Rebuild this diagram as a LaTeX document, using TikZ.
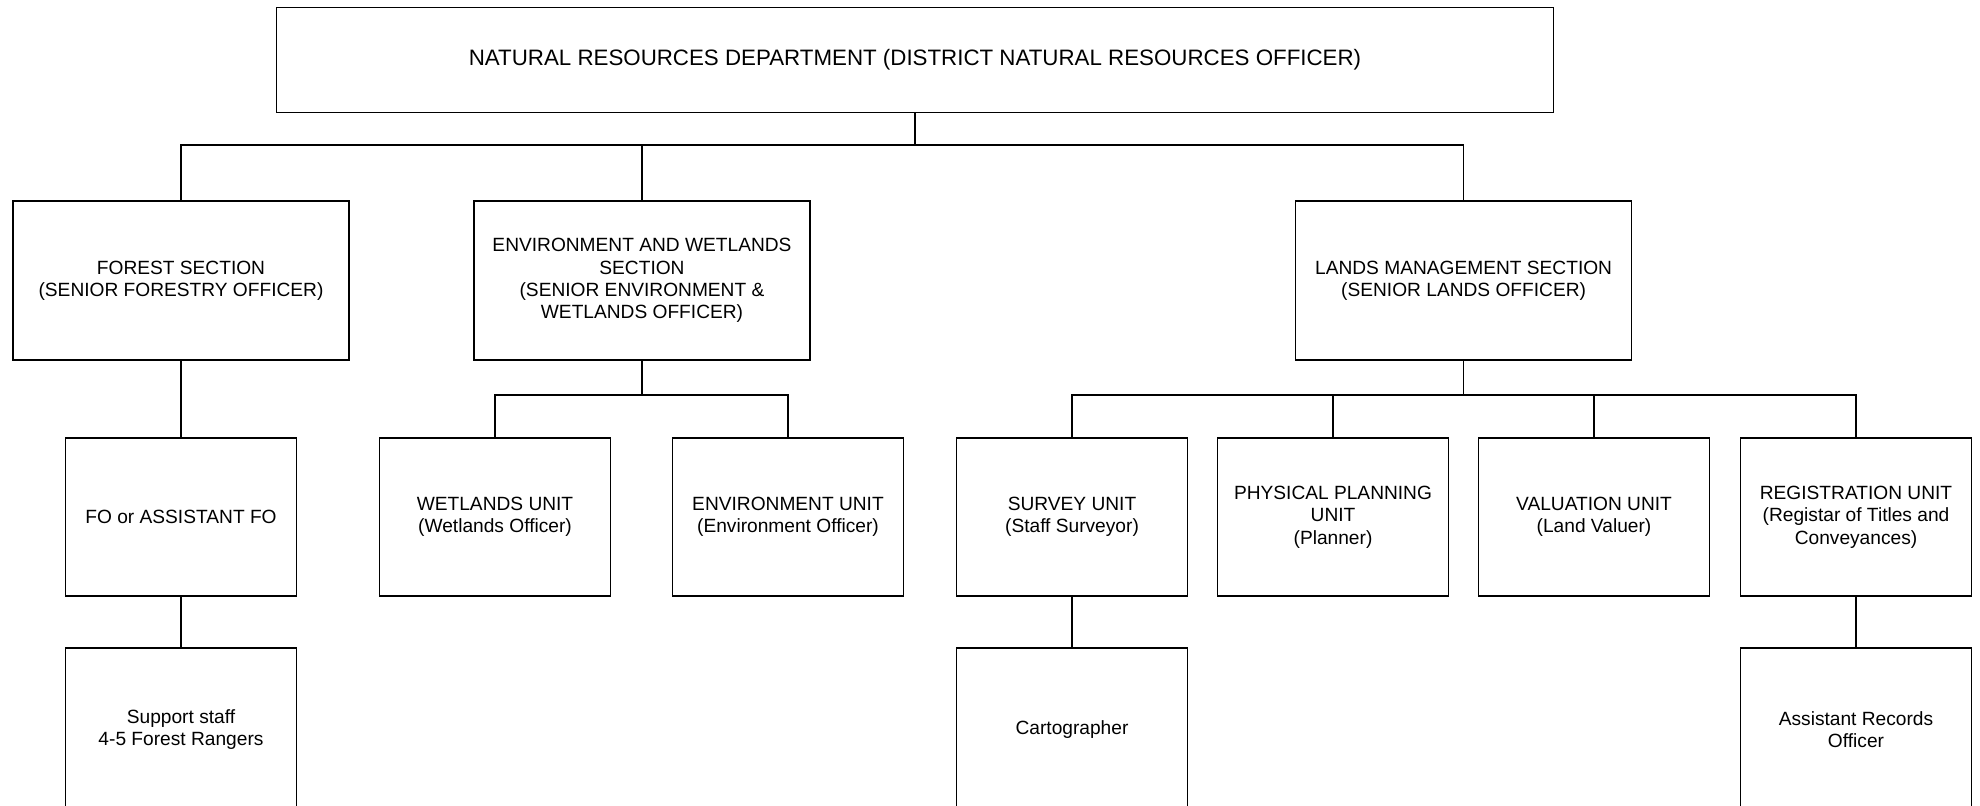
\documentclass[tikz,border=0pt]{standalone}
\usepackage{fontspec}
\setmainfont{Liberation Sans}
\usetikzlibrary{positioning}

\begin{document}
\begin{tikzpicture}[
            deptbox/.style={draw, line width=0.4pt, align=center, inner sep=0pt, outer sep=0pt, font=\fontsize{6.35}{7.5}\selectfont, minimum width=12.77cm, minimum height=1.05cm},
            sectbox/.style={draw, line width=0.4pt, align=center, inner sep=0pt, outer sep=0pt, font=\fontsize{5.45}{6.3}\selectfont, minimum width=3.36cm, minimum height=1.59cm},
            unitbox/.style={draw, line width=0.4pt, align=center, inner sep=0pt, outer sep=0pt, font=\fontsize{5.45}{6.4}\selectfont, minimum width=2.31cm, minimum height=1.58cm},
            staffbox/.style={unitbox, minimum height=1.63cm},
            link/.style={line width=0.35pt}
        ]
            \useasboundingbox (0,0) rectangle (19.8,8.05);
            \clip (0,0) rectangle (19.8,8.05);

            \node[deptbox] (dept) at (9.15,7.45) {NATURAL RESOURCES DEPARTMENT (DISTRICT NATURAL RESOURCES OFFICER)};

            \node[sectbox] (forest) at (1.81,5.245) {FOREST SECTION\\(SENIOR FORESTRY OFFICER)};
            \node[sectbox] (envwet) at (6.42,5.245) {ENVIRONMENT AND WETLANDS\\SECTION\\(SENIOR ENVIRONMENT \&\\WETLANDS OFFICER)};
            \node[sectbox] (lands) at (14.636,5.245) {LANDS MANAGEMENT SECTION\\(SENIOR LANDS OFFICER)};

            \node[unitbox, below=0.78cm of forest] (fo) {FO or ASSISTANT FO};
            \node[staffbox, below=0.52cm of fo] (rangers) {Support staff\\4-5 Forest Rangers};

            \node[unitbox] (wetunit) at (4.95,2.88) {WETLANDS UNIT\\(Wetlands Officer)};
            \node[unitbox, right=0.62cm of wetunit] (envunit) {ENVIRONMENT UNIT\\(Environment Officer)};

            \node[unitbox] (survey) at (10.72,2.88) {SURVEY UNIT\\(Staff Surveyor)};
            \node[unitbox, right=0.30cm of survey] (planning) {PHYSICAL PLANNING\\UNIT\\(Planner)};
            \node[unitbox, right=0.30cm of planning] (valuation) {VALUATION UNIT\\(Land Valuer)};
            \node[unitbox, right=0.31cm of valuation] (registry) {REGISTRATION UNIT\\(Registar of Titles and\\Conveyances)};
            \node[staffbox, below=0.52cm of survey] (carto) {Cartographer};
            \node[staffbox, below=0.52cm of registry] (records) {Assistant Records\\Officer};

            \coordinate (topbar) at (9.15,6.60);
            \coordinate (envbar) at (6.42,4.10);
            \coordinate (landbar) at (14.636,4.10);

            \draw [link] (dept) -- (topbar);
            \draw [link] (topbar) -| (forest);
            \draw [link] (topbar) -| (envwet);
            \draw [link] (topbar) -| (lands);
            \draw [link] (forest) -- (fo);
            \draw [link] (fo) -- (rangers);
            \draw [link] (envwet) -- (envbar);
            \draw [link] (envbar) -| (wetunit);
            \draw [link] (envbar) -| (envunit);
            \draw [link] (lands) -- (landbar);
            \draw [link] (landbar) -| (survey);
            \draw [link] (landbar) -| (planning);
            \draw [link] (landbar) -| (valuation);
            \draw [link] (landbar) -| (registry);
            \draw [link] (survey) -- (carto);
            \draw [link] (registry) -- (records);
        \end{tikzpicture}
\end{document}
